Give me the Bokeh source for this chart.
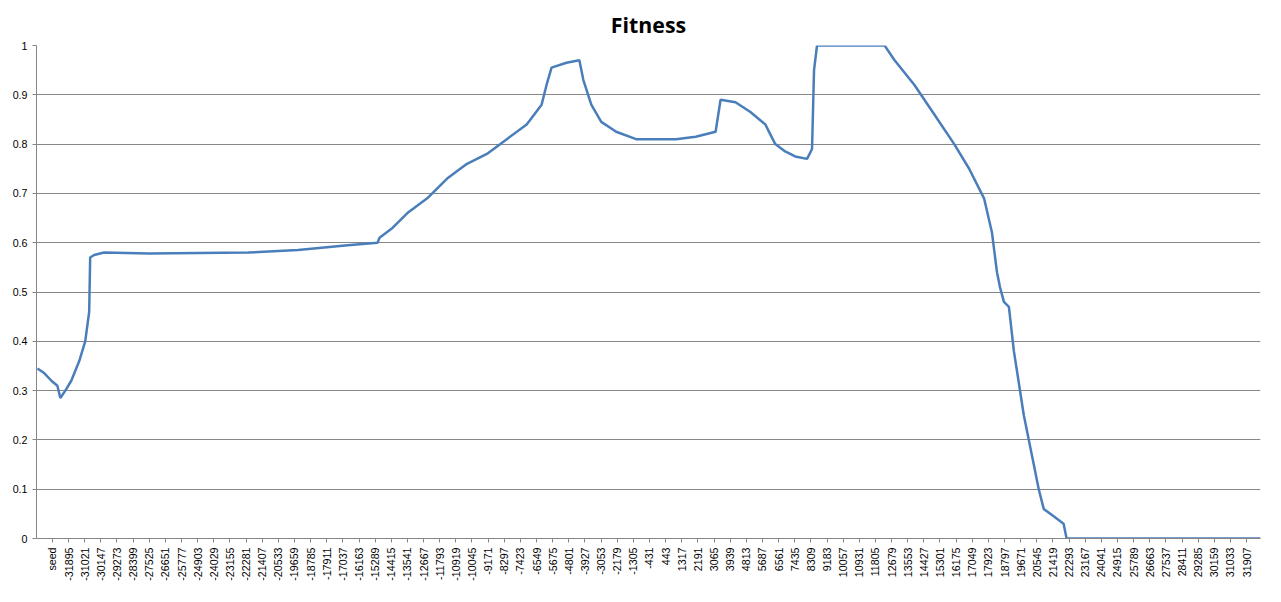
import math
from bokeh.plotting import figure
from bokeh.models import FixedTicker, Range1d
from bokeh.embed import file_html
from bokeh.resources import INLINE

# generation index (seed = -32769) and fitness value
gen = [-33577, -33200, -32823, -32500, -32338, -32069, -31746, -31315, -30992, -30777,
       -30723, -30507, -29969, -27546, -22161, -19468, -16776, -15160, -15052, -14352,
       -13544, -12467, -11391, -10314, -9237, -8160, -7083, -6275, -6006, -5736,
       -4929, -4229, -4013, -3583, -3044, -2236, -1159, 995, 2072, 3149,
       3418, 4226, 5034, 5841, 6380, 6918, 7457, 8103, 8372, 8480,
       8642, 12303, 12842, 13919, 14996, 16073, 16881, 17688, 18119, 18388,
       18550, 18765, 19034, 19304, 19842, 20381, 20650, 20919, 21458, 21996,
       22158, 32659]
fitness = [0.345, 0.335, 0.32, 0.31, 0.285, 0.30, 0.32, 0.36, 0.40, 0.46,
           0.57, 0.575, 0.58, 0.578, 0.58, 0.585, 0.595, 0.60, 0.61, 0.63,
           0.66, 0.69, 0.73, 0.76, 0.78, 0.81, 0.84, 0.88, 0.92, 0.955,
           0.965, 0.97, 0.93, 0.88, 0.845, 0.825, 0.81, 0.81, 0.815, 0.825,
           0.89, 0.885, 0.865, 0.84, 0.80, 0.785, 0.775, 0.77, 0.79, 0.95,
           1.0, 1.0, 0.97, 0.92, 0.86, 0.80, 0.75, 0.69, 0.62, 0.54,
           0.51, 0.48, 0.47, 0.38, 0.25, 0.15, 0.10, 0.06, 0.045, 0.03,
           0.0, 0.0]

x_ticks = [-32769 + 874 * j for j in range(75)]
x_labels = {t: ("seed" if t == -32769 else str(t)) for t in x_ticks}
y_ticks = [i / 10 for i in range(11)]
y_labels = {t: ("0" if t == 0 else "1" if t == 1 else f"{t:.1f}") for t in y_ticks}

p = figure(width=1265, height=586, output_backend="svg", toolbar_location=None,
           x_range=Range1d(-33630, 32660), y_range=Range1d(0, 1),
           title="Fitness", min_border_left=36, min_border_right=5,
           min_border_top=12, min_border_bottom=48)
p.title.align = "center"
p.title.text_font = "Open Sans"
p.title.text_font_size = "16pt"
p.title.text_font_style = "bold"
p.title.text_color = "#000000"
p.title.offset = 0
p.title.standoff = 14
p.outline_line_color = None
p.border_fill_color = "white"

p.xaxis.ticker = FixedTicker(ticks=x_ticks)
p.xaxis.major_label_overrides = x_labels
p.xaxis.major_label_orientation = math.pi / 2
p.yaxis.ticker = FixedTicker(ticks=y_ticks)
p.yaxis.major_label_overrides = y_labels
for ax in (p.xaxis, p.yaxis):
    ax.major_label_text_font = "Liberation Sans"
    ax.major_label_text_font_size = "8pt"
    ax.major_label_text_color = "#000000"
    ax.axis_line_color = "#868686"
    ax.major_tick_line_color = "#868686"
    ax.minor_tick_line_color = None
p.xaxis.major_tick_in = 0
p.xaxis.major_tick_out = 4
p.yaxis.major_tick_in = 0
p.yaxis.major_tick_out = 4
p.xgrid.grid_line_color = None
p.ygrid.grid_line_color = "#868686"

p.line(gen, fitness, line_color="#4a7ebb", line_width=2.5)

open("out.html", "w").write(file_html(p, INLINE))
